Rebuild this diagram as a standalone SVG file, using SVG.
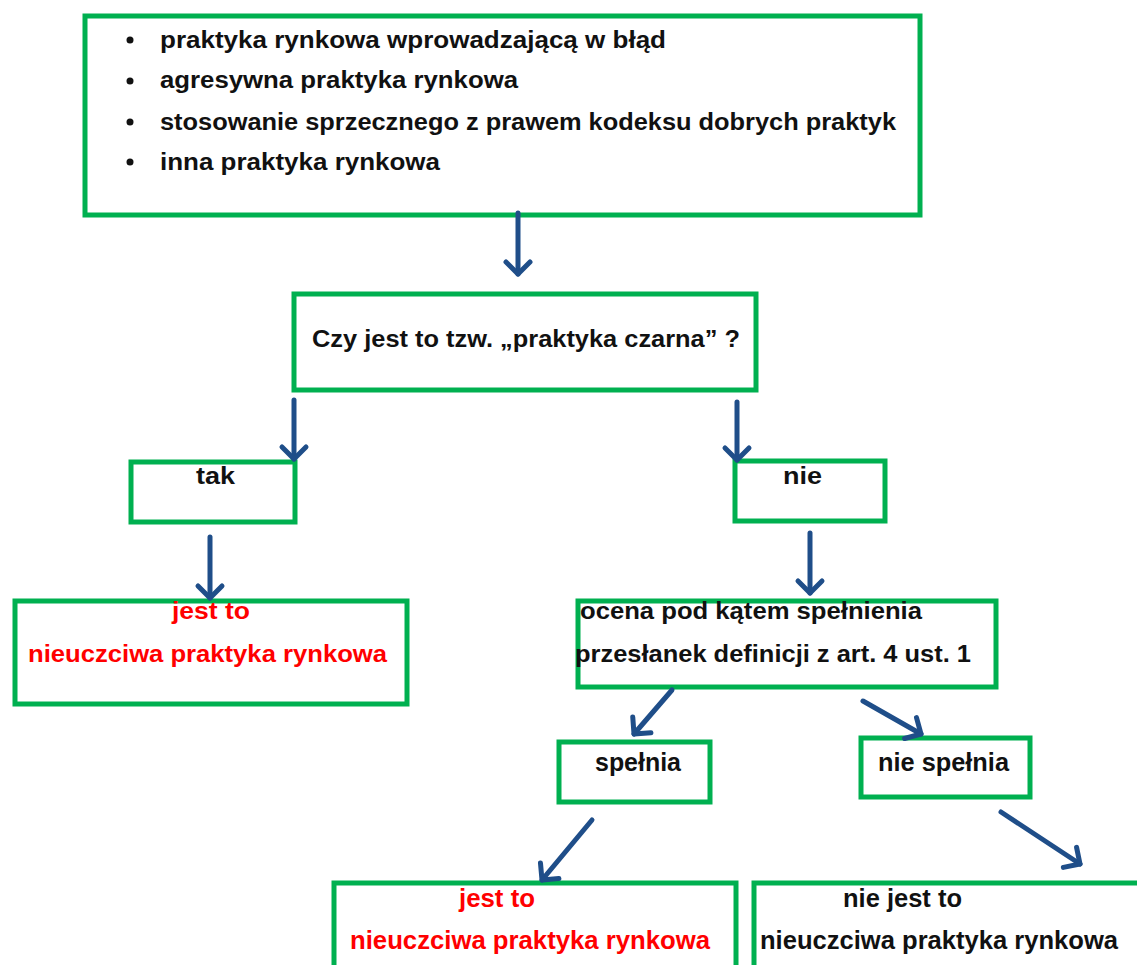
<svg xmlns="http://www.w3.org/2000/svg" width="1137" height="965" viewBox="0 0 1137 965">
<style>
.box{fill:#fff;stroke:#00b050;stroke-width:5}
.t{font-family:"Liberation Sans",Arial,sans-serif;font-weight:bold;font-size:23px;fill:#111}
.b{font-size:25px}
.r{fill:#ff0000}
.c{fill:none;stroke:#1f4e89;stroke-width:5;stroke-linecap:round}
</style>
<defs>
<marker id="ah" markerUnits="userSpaceOnUse" markerWidth="40" markerHeight="40" refX="20" refY="20" orient="auto" viewBox="0 0 40 40">
<path d="M8,8 L20,20 L8,32" fill="none" stroke="#1f4e89" stroke-width="5" stroke-linecap="round" stroke-linejoin="round"/>
</marker>
</defs>
<rect width="1137" height="965" fill="#fff"/>
<g id="n1">
<rect class="box" x="85" y="16" width="835" height="199"/>
<circle cx="130" cy="40" r="3.5" fill="#111"/>
<circle cx="130" cy="81" r="3.5" fill="#111"/>
<circle cx="130" cy="122" r="3.5" fill="#111"/>
<circle cx="130" cy="162" r="3.5" fill="#111"/>
<text class="t" x="160" y="48" textLength="506" lengthAdjust="spacingAndGlyphs">praktyka rynkowa wprowadzającą w błąd</text>
<text class="t" x="160" y="88" textLength="358" lengthAdjust="spacingAndGlyphs">agresywna praktyka rynkowa</text>
<text class="t" x="160" y="130" textLength="736" lengthAdjust="spacingAndGlyphs">stosowanie sprzecznego z prawem kodeksu dobrych praktyk</text>
<text class="t" x="160" y="170" textLength="280" lengthAdjust="spacingAndGlyphs">inna praktyka rynkowa</text>
</g>
<g id="n2">
<rect class="box" x="294" y="294" width="462" height="96"/>
<text class="t" x="312" y="347" textLength="428" lengthAdjust="spacingAndGlyphs">Czy jest to tzw. „praktyka czarna” ?</text>
</g>
<g id="n3">
<rect class="box" x="131" y="462" width="164" height="60"/>
<text class="t" x="196" y="484" textLength="39" lengthAdjust="spacingAndGlyphs">tak</text>
</g>
<g id="n4">
<rect class="box" x="735" y="461" width="150" height="60"/>
<text class="t" x="783" y="484" textLength="39" lengthAdjust="spacingAndGlyphs">nie</text>
</g>
<g id="n5">
<rect class="box" x="15" y="601" width="392" height="103"/>
<text class="t r" x="172" y="619" textLength="78" lengthAdjust="spacingAndGlyphs">jest to</text>
<text class="t r" x="28" y="662" textLength="359" lengthAdjust="spacingAndGlyphs">nieuczciwa praktyka rynkowa</text>
</g>
<g id="n6">
<rect class="box" x="578" y="601" width="418" height="86"/>
<text class="t" x="580" y="619" textLength="342" lengthAdjust="spacingAndGlyphs">ocena pod kątem spełnienia</text>
<text class="t" x="575" y="662" textLength="396" lengthAdjust="spacingAndGlyphs">przesłanek definicji z art. 4 ust. 1</text>
</g>
<g id="n7">
<rect class="box" x="559" y="742" width="151" height="60"/>
<text class="t b" x="595" y="771" textLength="86" lengthAdjust="spacingAndGlyphs">spełnia</text>
</g>
<g id="n8">
<rect class="box" x="861" y="738" width="169" height="59"/>
<text class="t b" x="878" y="771" textLength="131" lengthAdjust="spacingAndGlyphs">nie spełnia</text>
</g>
<g id="n9">
<rect class="box" x="334" y="883" width="402" height="100"/>
<text class="t b r" x="459" y="907" textLength="76" lengthAdjust="spacingAndGlyphs">jest to</text>
<text class="t b r" x="350" y="949" textLength="360" lengthAdjust="spacingAndGlyphs">nieuczciwa praktyka rynkowa</text>
</g>
<g id="n10">
<rect class="box" x="754" y="883" width="400" height="100"/>
<text class="t b" x="843" y="907" textLength="119" lengthAdjust="spacingAndGlyphs">nie jest to</text>
<text class="t b" x="760" y="949" textLength="358" lengthAdjust="spacingAndGlyphs">nieuczciwa praktyka rynkowa</text>
</g>
<g id="connectors">
<line class="c" x1="518" y1="213" x2="518" y2="274" marker-end="url(#ah)"/>
<line class="c" x1="294" y1="400" x2="294" y2="459" marker-end="url(#ah)"/>
<line class="c" x1="737" y1="402" x2="737" y2="460" marker-end="url(#ah)"/>
<line class="c" x1="210" y1="537" x2="210" y2="598" marker-end="url(#ah)"/>
<line class="c" x1="810" y1="533" x2="810" y2="593" marker-end="url(#ah)"/>
<line class="c" x1="672" y1="690" x2="634" y2="734" marker-end="url(#ah)"/>
<line class="c" x1="863" y1="701" x2="921" y2="734" marker-end="url(#ah)"/>
<line class="c" x1="592" y1="820" x2="542" y2="880" marker-end="url(#ah)"/>
<line class="c" x1="1001" y1="812" x2="1080" y2="864" marker-end="url(#ah)"/>
</g>
</svg>
